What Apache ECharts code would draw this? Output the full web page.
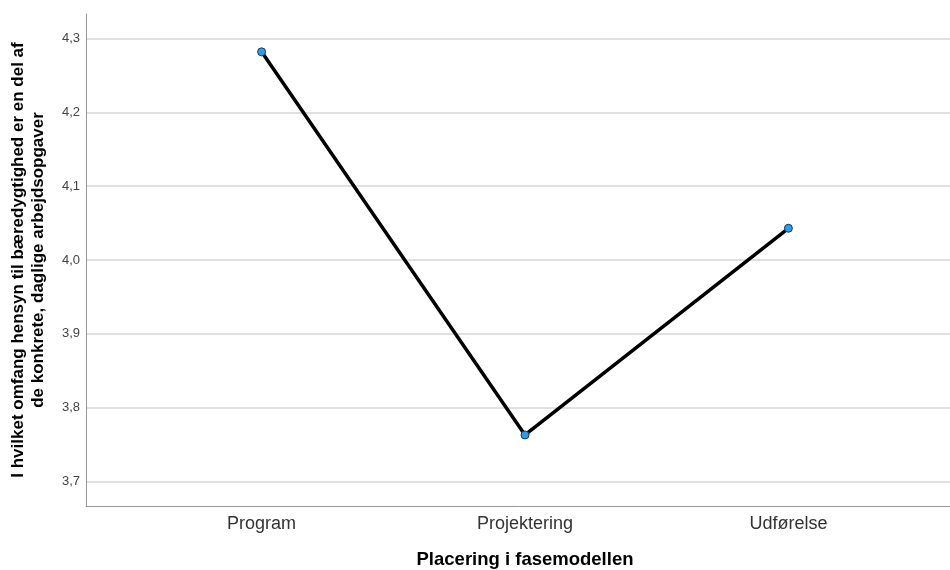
<!DOCTYPE html>
<html>
<head>
<meta charset="utf-8">
<script src="https://cdn.jsdelivr.net/npm/echarts@6/dist/echarts.min.js"></script>
<style>html,body{margin:0;padding:0;background:#fff}#c{width:950px;height:570px}</style>
</head>
<body>
<div id="c"></div>
<script>
const categories = ['Program', 'Projektering', 'Udførelse'];
const means = [4.282, 3.763, 4.043];
const yTicks = [3.7, 3.8, 3.9, 4.0, 4.1, 4.2, 4.3];
const xTitle = 'Placering i fasemodellen';
const yTitle = 'I hvilket omfang hensyn til bæredygtighed er en del af\nde konkrete, daglige arbejdsopgaver';

const chart = echarts.init(document.getElementById('c'), null, {renderer: 'canvas'});
const font = 'Arial, "Liberation Sans", sans-serif';
chart.setOption({
  animation: false,
  grid: {left: 86, top: 14, bottom: 64, right: -14, containLabel: false, outerBoundsMode: 'none'},
  xAxis: {
    type: 'value', min: -2/3, max: categories.length - 1 + 2/3,
    axisLine: {show: true, onZero: false, lineStyle: {color: '#999', width: 1}},
    axisTick: {show: false, customValues: categories.map((c, i) => i)},
    splitLine: {show: false},
    axisLabel: {customValues: categories.map((c, i) => i), formatter: v => categories[Math.round(v)] || '',
      color: '#333', fontSize: 18, fontFamily: font, margin: 9},
    name: xTitle, nameLocation: 'middle', nameGap: 44,
    nameTextStyle: {fontFamily: font, fontWeight: 'bold', fontSize: 18.5, color: '#000'}
  },
  yAxis: {
    type: 'value', min: 3.6667, max: 4.3333,
    axisLine: {show: true, onZero: false, lineStyle: {color: '#999', width: 1}},
    axisTick: {show: false, customValues: yTicks},
    splitLine: {show: true, lineStyle: {color: '#d6d6d6', width: 1.5}},
    axisLabel: {customValues: yTicks, formatter: v => v.toFixed(1).replace('.', ','),
      color: '#444', fontSize: 13, fontFamily: font, margin: 6},
    name: yTitle, nameLocation: 'middle', nameGap: 38,
    nameTextStyle: {fontFamily: font, fontWeight: 'bold', fontSize: 17, color: '#000', lineHeight: 20}
  },
  series: [{
    type: 'line',
    data: means.map((v, i) => [i, v]),
    lineStyle: {color: '#000', width: 3.5},
    symbol: 'circle', symbolSize: 8,
    itemStyle: {color: '#2f9ce8', borderColor: '#123a5e', borderWidth: 1},
    z: 3
  }]
});
</script>
</body>
</html>
